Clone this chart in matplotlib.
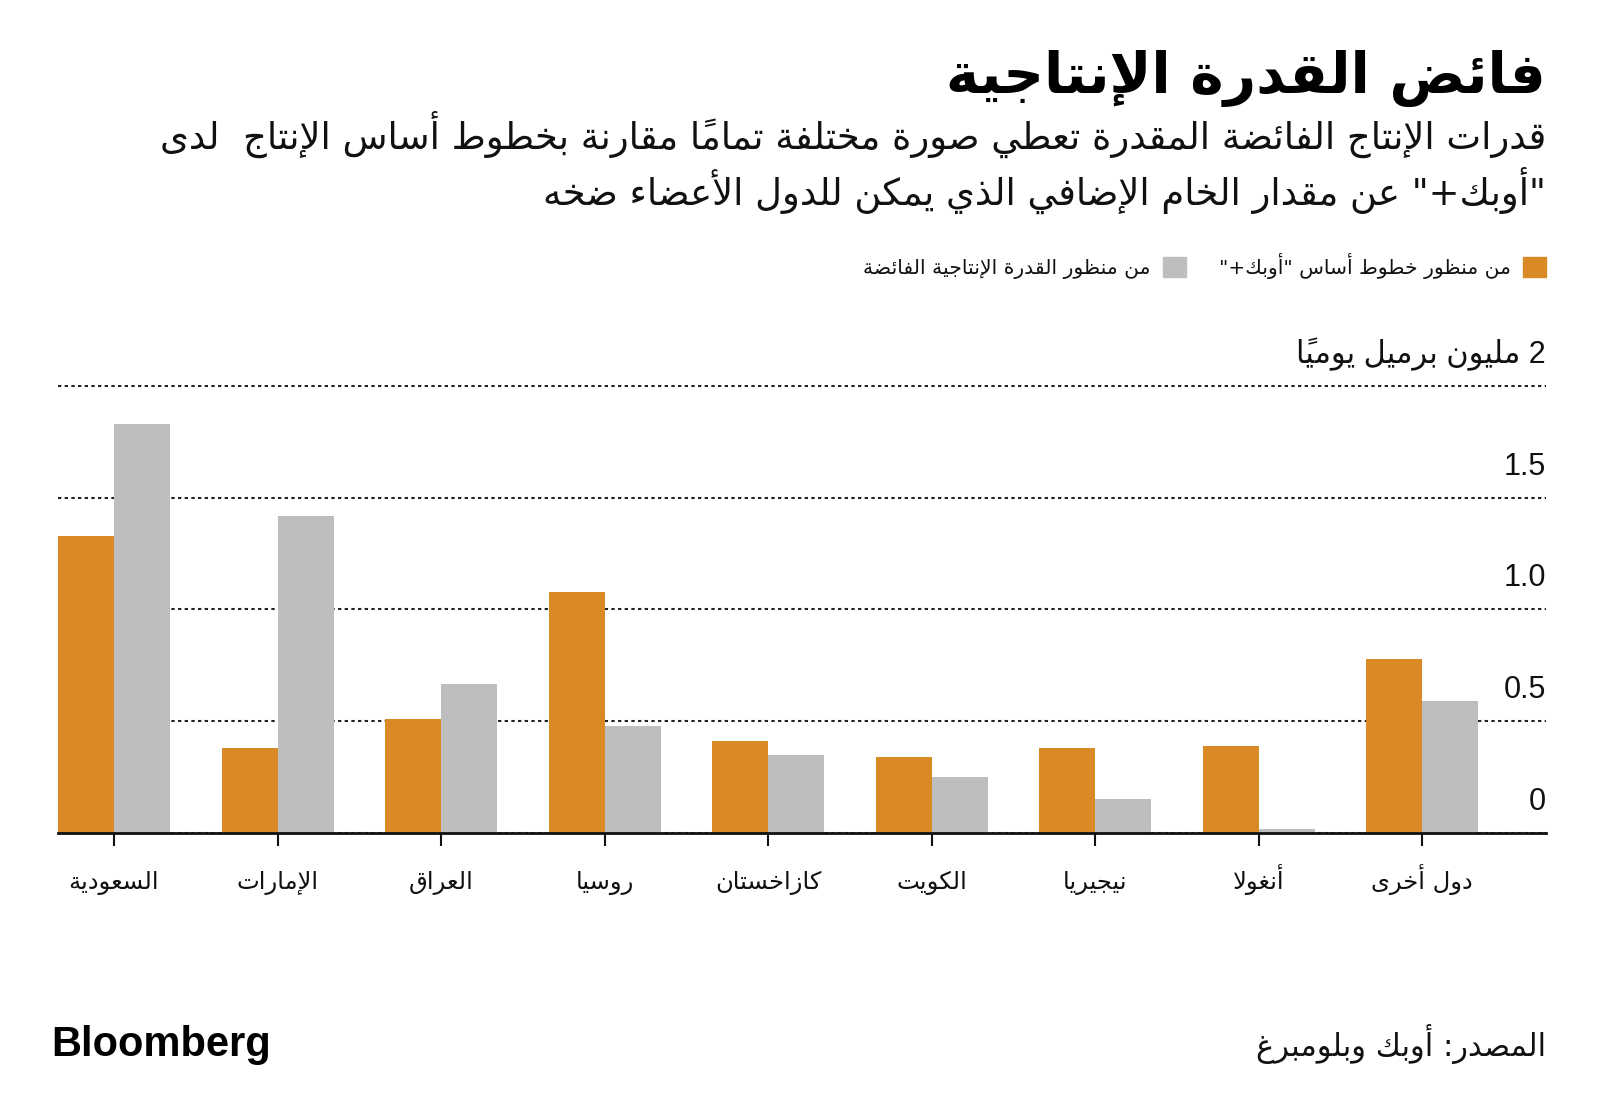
import matplotlib
matplotlib.use("Agg")
import numpy as np
from matplotlib import pyplot as plt
from matplotlib import transforms
from matplotlib.patches import Patch

# ---------------------------------------------------------------- data
categories = ["السعودية", "الإمارات", "العراق", "روسيا", "كازاخستان",
              "الكويت", "نيجيريا", "أنغولا", "دول أخرى"]
opec_baseline = [1.33, 0.38, 0.51, 1.08, 0.41, 0.34, 0.38, 0.39, 0.78]
spare_capacity = [1.83, 1.42, 0.665, 0.48, 0.35, 0.25, 0.15, 0.02, 0.59]
y_ticks = [0, 0.5, 1.0, 1.5, 2.0]
y_tick_labels = ["0", "0.5", "1.0", "1.5", "2 مليون برميل يومياً"]

TITLE = "فائض القدرة الإنتاجية"
SUBTITLE = [
    "قدرات الإنتاج الفائضة المقدرة تعطي صورة مختلفة تماماً مقارنة بخطوط أساس الإنتاج  لدى",
    "\"أوبك+\" عن مقدار الخام الإضافي الذي يمكن للدول الأعضاء ضخه",
]
LEGEND = ["من منظور خطوط أساس \"أوبك+\"", "من منظور القدرة الإنتاجية الفائضة"]
SOURCE = "المصدر: أوبك وبلومبرغ"

ORANGE = "#d98a26"
GRAY = "#bebebe"
INK = "#111111"
AR = ["DejaVu Sans"]
NUM = ["Liberation Sans", "DejaVu Sans"]

# ------------------------------------------- arabic shaping (no raqm here)
_ONE = {"\u0621": 0xFE80}
_TWO = {"\u0622": 0xFE81, "\u0623": 0xFE83, "\u0624": 0xFE85, "\u0625": 0xFE87,
        "\u0627": 0xFE8D, "\u0629": 0xFE93, "\u062F": 0xFEA9, "\u0630": 0xFEAB,
        "\u0631": 0xFEAD, "\u0632": 0xFEAF, "\u0648": 0xFEED, "\u0649": 0xFEEF}
_FOUR = {"\u0626": 0xFE89, "\u0628": 0xFE8F, "\u062A": 0xFE95, "\u062B": 0xFE99,
         "\u062C": 0xFE9D, "\u062D": 0xFEA1, "\u062E": 0xFEA5, "\u0633": 0xFEB1,
         "\u0634": 0xFEB5, "\u0635": 0xFEB9, "\u0636": 0xFEBD, "\u0637": 0xFEC1,
         "\u0638": 0xFEC5, "\u0639": 0xFEC9, "\u063A": 0xFECD, "\u0641": 0xFED1,
         "\u0642": 0xFED5, "\u0643": 0xFED9, "\u0644": 0xFEDD, "\u0645": 0xFEE1,
         "\u0646": 0xFEE5, "\u0647": 0xFEE9, "\u064A": 0xFEF1}
_LAM_ALEF = {"\u0622": 0xFEF5, "\u0623": 0xFEF7, "\u0625": 0xFEF9, "\u0627": 0xFEFB}
_MARKS = {chr(c) for c in range(0x064B, 0x0653)} | {"\u0670"}


def _jt(ch):
    if ch in _FOUR:
        return "D"
    if ch in _TWO:
        return "R"
    return None


def _shape(text):
    """Contextual forms, logical order, list of clusters."""
    n = len(text)

    def near(i, step):
        j = i + step
        while 0 <= j < n and text[j] in _MARKS:
            j += step
        return j if 0 <= j < n else None

    out, i = [], 0
    while i < n:
        ch = text[i]
        if ch in _MARKS:
            if out:
                out[-1] += ch
            i += 1
            continue
        p, nx = near(i, -1), near(i, 1)
        prev = text[p] if p is not None else None
        nxt = text[nx] if nx is not None else None
        jp = prev is not None and _jt(prev) == "D"
        if ch == "\u0644" and nxt in _LAM_ALEF:
            out.append(chr(_LAM_ALEF[nxt] + (1 if jp else 0)))
            i = nx + 1
            continue
        t = _jt(ch)
        if t is None:
            out.append(chr(_ONE[ch]) if ch in _ONE else ch)
        else:
            jn = t == "D" and nxt is not None and _jt(nxt) is not None
            base = _FOUR[ch] if t == "D" else _TWO[ch]
            if jp and jn:
                off = 3
            elif jp:
                off = 1
            elif jn:
                off = 2
            else:
                off = 0
            out.append(chr(base + off))
        i += 1
    return out


def ar(text):
    """Shaped text in visual (left to right) order."""
    runs = []
    for c in _shape(text):
        ltr = c[0].isascii() and (c[0].isalnum() or c[0] == ".")
        if ltr and runs and runs[-1][1]:
            runs[-1][0] += c
        else:
            runs.append([c, ltr])
    return "".join(r[0] for r in reversed(runs))


# ---------------------------------------------------------------- figure
fig = plt.figure(figsize=(16, 11.2), dpi=100)
fig.patch.set_facecolor("white")
W, H = 1600, 1120
RX = 1546 / W  # right edge of all text


def fy(px):
    return 1 - px / H


ax = fig.add_axes([58 / W, fy(833), (1546 - 58) / W, (833 - 385) / H])

x = np.arange(len(categories))
bw = 0.3425
ax.bar(x - bw / 2, opec_baseline, bw, color=ORANGE, zorder=2)
ax.bar(x + bw / 2, spare_capacity, bw, color=GRAY, zorder=2)

ax.set_xlim(-bw, 8.758)
ax.set_ylim(0, 2.004)
ax.set_yticks(y_ticks)
ax.yaxis.grid(True, color="#222222", linestyle=(0, (1.6, 1.6)), linewidth=1.5)
ax.set_axisbelow(True)
ax.tick_params(axis="y", length=0, labelleft=False)
ax.set_xticks(x, [ar(c) for c in categories])
ax.tick_params(axis="x", length=9, width=1.5, color=INK, pad=31,
               labelsize=17.5, labelcolor=INK)
for lab in ax.get_xticklabels():
    lab.set_family(AR)
    lab.set_verticalalignment("baseline")
for s in ("top", "left", "right"):
    ax.spines[s].set_visible(False)
ax.spines["bottom"].set_linewidth(2)
ax.spines["bottom"].set_color(INK)
ax.spines["bottom"].set_zorder(3)

# y labels sit above their grid lines at the right end
lift = transforms.offset_copy(
    transforms.blended_transform_factory(ax.transAxes, ax.transData),
    fig=fig, y=23 * 72 / 100, units="points")
for v, lab in zip(y_ticks, y_tick_labels):
    ax.text(1.0, v, ar(lab), transform=lift, ha="right", va="baseline",
            fontsize=22, family=NUM, color=INK)

# ---------------------------------------------------------------- texts
r = fig.canvas.get_renderer()


def fit(t, width):
    w = t.get_window_extent(r).width
    t.set_fontsize(t.get_fontsize() * width / w)


t = fig.text(RX, fy(93), ar(TITLE), ha="right", va="baseline",
             fontsize=40, weight="bold", family=AR, color="black")
fit(t, 599)
s1 = fig.text(RX, fy(149), ar(SUBTITLE[0]), ha="right", va="baseline",
              fontsize=24, family=AR, color=INK)
fit(s1, 1395)
fig.text(RX, fy(205), ar(SUBTITLE[1]), ha="right", va="baseline",
         fontsize=s1.get_fontsize(), family=AR, color=INK)

handles = [Patch(color=GRAY), Patch(color=ORANGE)]
fig.legend(handles, [ar(LEGEND[1]), ar(LEGEND[0])], ncol=2,
           markerfirst=False, frameon=False, loc="center right",
           bbox_to_anchor=(RX + 0.0115, fy(266)),
           prop={"family": AR, "size": 14.6},
           handlelength=1.15, handleheight=1.15, handletextpad=0.6,
           columnspacing=1.6, labelcolor=INK)

fig.text(51 / W, fy(1056), "Bloomberg", ha="left", va="baseline",
         fontsize=30, weight="bold", family=NUM, color="black")
fig.text(RX, fy(1056), ar(SOURCE), ha="right", va="baseline",
         fontsize=22, family=AR, color=INK)

fig.savefig("out.png", dpi=100, facecolor="white")
